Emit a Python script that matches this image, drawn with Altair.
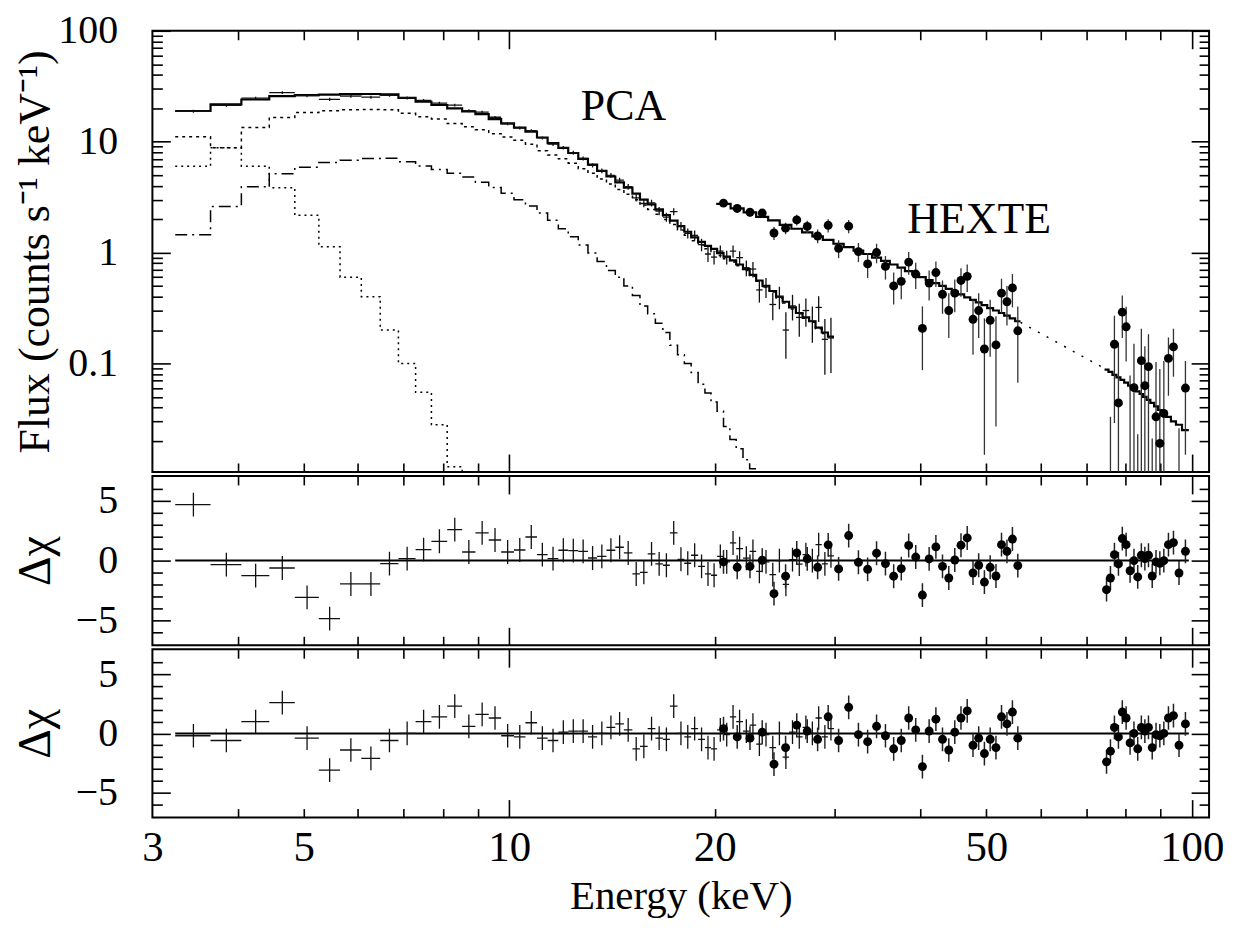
import altair as alt
import pandas as pd

FONT = "Liberation Serif"

# ---------------- PCA (channel edges in keV) ----------------
pca_edges = [3.24, 3.65, 4.05, 4.45, 4.85, 5.26, 5.65, 6.07, 6.47, 6.88, 7.29, 7.69,
             8.11, 8.53, 8.92, 9.33, 9.73, 10.16, 10.56, 10.98, 11.38, 11.80, 12.20,
             12.62, 13.04, 13.45, 13.88, 14.30, 14.72, 15.15, 15.54, 15.95, 16.37,
             16.79, 17.19, 17.64, 18.05, 18.47, 18.91, 19.35, 19.75, 20.16, 20.6,
             21.05, 21.5, 22.0, 22.5, 23.0, 23.5, 24.05, 24.6, 25.15, 25.7, 26.3,
             26.9, 27.5, 28.1, 28.7, 29.3, 29.9]
pca_flux = [18.8, 21.3, 24.7, 27.7, 26.0, 24.1, 25.7, 25.2, 26.2, 24.8,
            23.6, 22.3, 21.4, 19.0, 18.5, 16.6, 14.5, 13.3, 12.6, 10.8,
            9.5, 8.83, 7.96, 7.06, 6.12, 5.45, 4.97, 4.49, 3.92, 3.11,
            2.77, 2.8, 2.37, 2.09, 2.34, 1.73, 1.49, 1.43, 1.18, 0.97,
            0.91, 1.03, 0.91, 1.03, 0.90, 0.73, 0.71, 0.46, 0.49, 0.34,
            0.40, 0.20, 0.33, 0.26, 0.30, 0.24, 0.32, 0.165, 0.17]
pca_err = [0.57, 0.65, 0.72, 0.77, 0.79, 0.8, 0.8, 0.81, 0.8, 0.74,
           0.69, 0.64, 0.6, 0.56, 0.53, 0.48, 0.44, 0.4, 0.37, 0.33,
           0.34, 0.31, 0.32, 0.28, 0.28, 0.27, 0.24, 0.24, 0.23, 0.22,
           0.21, 0.2, 0.2, 0.19, 0.175, 0.16, 0.154, 0.15, 0.15, 0.15,
           0.13, 0.13, 0.13, 0.13, 0.125, 0.12, 0.113, 0.106, 0.1, 0.095,
           0.092, 0.09, 0.086, 0.086, 0.086, 0.086, 0.084, 0.086, 0.088]
pca_model = [18.9, 21.7, 24.0, 25.7, 26.3, 26.6, 26.8, 26.9, 26.7, 24.8,
             22.9, 21.4, 20.0, 18.7, 17.7, 16.0, 14.6, 13.4, 12.3, 10.9,
             9.7, 8.8, 7.9, 7.0, 6.2, 5.45, 4.85, 4.3, 3.85, 3.4,
             3.0, 2.72, 2.45, 2.18, 1.94, 1.73, 1.54, 1.37, 1.25, 1.15,
             1.08, 0.99, 0.92, 0.85, 0.78, 0.71, 0.63, 0.56, 0.50, 0.45,
             0.40, 0.36, 0.32, 0.285, 0.26, 0.24, 0.21, 0.19, 0.175]
pca_comp_soft = [6.0, 8.8, 6.0, 3.85, 2.17, 1.13, 0.60, 0.40, 0.20, 0.10,
                 0.055, 0.028, 0.0117, 0.006]
pca_comp_hard = [11.1, 8.8, 13.4, 16.5, 18.3, 19.0, 19.4, 19.5, 19.4, 18.0,
                 16.8, 16.0, 14.6, 13.6, 12.8, 11.8, 11.0, 10.3, 9.5, 8.3,
                 7.6, 7.0, 6.4, 5.7, 5.2, 4.6, 4.15, 3.7, 3.35, 3.0,
                 2.68, 2.45, 2.22, 1.99, 1.79, 1.6, 1.43, 1.28, 1.17, 1.08,
                 1.02, 0.94, 0.88, 0.82, 0.76, 0.69, 0.61, 0.55, 0.49, 0.44,
                 0.39, 0.35, 0.31, 0.28, 0.255, 0.235, 0.205, 0.186, 0.171]
pca_comp_mid = [1.45, 2.6, 3.92, 5.14, 5.89, 6.5, 6.8, 7.05, 7.1, 6.6,
                6.04, 5.6, 5.2, 4.8, 4.3, 3.87, 3.42, 3.0, 2.63, 2.27,
                1.96, 1.64, 1.39, 1.17, 0.99, 0.83, 0.69, 0.60, 0.50, 0.41,
                0.33, 0.28, 0.23, 0.19, 0.146, 0.12, 0.10, 0.083, 0.065, 0.054,
                0.045, 0.037, 0.027, 0.0206, 0.017, 0.0135, 0.0112, 0.009]
pca_resid_1 = [4.7, -0.34, -1.26, -0.62, -3.08, -4.87, -1.96, -1.96, -0.25, 0.17,
               0.92, 1.62, 2.6, 0.72, 2.32, 1.73, 0.72, 0.89, 1.98, 0.5,
               0.17, 0.87, 0.84, 0.78, 0.22, 0.36, 0.87, 1.12, 0.64, -1.12,
               -0.98, 0.56, -0.28, -0.39, 2.32, 0.11, -0.22, 0.45, -0.48, -1.12,
               -1.23, 0.36, -0.1, 1.48, 1.0, 0.2, 0.78, -0.9, -0.11, -1.18,
               0.0, -2.0, 0.08, -0.3, 0.5, 0.0, 1.34, -0.28, 0.4]
pca_resid_2 = [-0.2, -0.6, 1.0, 2.6, -0.4, -3.1, -1.4, -2.1, -0.6, 0.0,
               1.0, 1.4, 2.3, 0.6, 1.6, 1.3, -0.2, -0.3, 0.9, -0.4,
               -0.6, 0.1, 0.2, 0.2, -0.3, 0.0, 0.5, 0.8, 0.3, -1.3,
               -1.1, 0.4, -0.4, -0.5, 2.3, 0.0, -0.3, 0.4, -0.5, -1.2,
               -1.3, 0.3, -0.1, 1.4, 1.0, 0.2, 0.7, -0.9, -0.1, -1.2,
               0.0, -2.0, 0.1, -0.3, 0.5, 0.0, 1.3, -0.3, 0.4]

# ---------------- HEXTE ----------------
hexte_edges_low = [20.1, 21.1, 22.05, 23.0, 23.95, 24.9, 25.9, 26.85, 27.8, 28.8,
                   29.85, 30.9, 31.95, 33.0, 34.0, 35.05, 36.1, 37.05, 38.0, 38.95,
                   39.85, 40.75, 41.7, 42.65, 43.6, 44.5, 45.4, 46.4, 47.35, 48.25,
                   49.2, 50.15, 51.15, 52.15, 53.1, 54.1, 55.1, 56.1]
hexte_edges_high = [74.5, 75.5, 76.5, 77.55, 78.6, 79.6, 80.65, 81.75, 82.8, 83.85,
                    84.85, 85.85, 86.95, 88.05, 89.2, 90.35, 91.65, 93.2, 94.8, 96.75, 99.0]
hexte_flux_low = [2.79, 2.50, 2.31, 2.27, 1.50, 1.66, 1.97, 1.72, 1.41, 1.76,
                  1.09, 1.73, 1.02, 0.79, 1.0, 0.75, 0.50, 0.55, 0.82, 0.64,
                  0.207, 0.53, 0.66, 0.42, 0.30, 0.43, 0.56, 0.61, 0.25, 0.30,
                  0.135, 0.245, 0.147, 0.43, 0.36, 0.48, 0.197]
hexte_flux_high = [-0.18, -0.077, 0.149, 0.044, 0.29, 0.214, -0.022, 0.0605, -0.067, 0.106,
                   0.063, 0.0935, -0.059, 0.033, 0.019, 0.0354, 0.111, 0.141, -0.029, 0.060]
hexte_err_low = [0.2, 0.2, 0.2, 0.2, 0.2, 0.2, 0.22, 0.22, 0.2, 0.24,
                 0.2, 0.24, 0.2, 0.2, 0.2, 0.18, 0.16, 0.17, 0.19, 0.17,
                 0.12, 0.16, 0.17, 0.14, 0.13, 0.14, 0.16, 0.17, 0.13, 0.13,
                 0.12, 0.13, 0.12, 0.15, 0.14, 0.16, 0.13]
hexte_err_high = [0.11, 0.11, 0.12, 0.11, 0.12, 0.11, 0.1, 0.09, 0.09, 0.1,
                  0.08, 0.09, 0.08, 0.07, 0.07, 0.07, 0.06, 0.065, 0.055, 0.045]
hexte_model_low = [2.75, 2.5, 2.3, 2.1, 1.95, 1.78, 1.64, 1.52, 1.40, 1.30,
                   1.20, 1.12, 1.04, 0.97, 0.90, 0.84, 0.78, 0.73, 0.68, 0.64,
                   0.60, 0.565, 0.53, 0.50, 0.47, 0.445, 0.42, 0.395, 0.375, 0.355,
                   0.335, 0.315, 0.30, 0.285, 0.27, 0.255, 0.24]
hexte_model_high = [0.088, 0.084, 0.079, 0.075, 0.071, 0.067, 0.063, 0.06, 0.056, 0.053,
                    0.050, 0.047, 0.044, 0.041, 0.038, 0.036, 0.033, 0.030, 0.028, 0.025]
hexte_gap_E = [56.1, 74.5]
hexte_gap_model = [0.235, 0.09]
hexte_resid_1_low = [-0.11, -0.56, -0.48, 0.03, -2.77, -1.31, 0.64, 0.14, -0.56, 1.32,
                     -0.70, 2.10, -0.14, -0.73, 0.62, -0.25, -1.31, -0.67, 1.27, 0.30,
                     -2.89, 0.14, 1.15, -0.48, -1.46, 0.05, 1.29, 1.90, -1.04, -0.39,
                     -1.80, -0.56, -1.29, 1.34, 0.78, 1.81, -0.42]
hexte_resid_1_high = [-2.44, -1.46, 0.5, -0.28, 1.85, 1.34, -0.85, 0.0, -1.37, 0.45,
                      0.17, 0.45, -1.29, -0.11, -0.22, 0.0, 1.34, 1.51, -1.04, 0.78]
hexte_resid_2_low = [0.4, -0.3, -0.4, 0.1, -2.6, -1.2, 0.7, 0.2, -0.5, 1.4,
                     -0.6, 2.2, -0.1, -0.7, 0.6, -0.2, -1.3, -0.6, 1.3, 0.3,
                     -2.8, 0.2, 1.2, -0.5, -1.4, 0.1, 1.3, 1.9, -1.0, -0.4,
                     -1.7, -0.5, -1.2, 1.4, 0.8, 1.8, -0.4]
hexte_resid_2_high = [-2.4, -1.5, 0.5, -0.3, 1.8, 1.3, -0.8, 0.0, -1.3, 0.5,
                      0.2, 0.5, -1.2, -0.1, -0.2, 0.0, 1.3, 1.5, -1.0, 0.8]

label_text = ["PCA", "HEXTE"]
label_E = [14.7, 48.8]
label_F = [20.4, 1.96]

# ---------------- tables ----------------
pca = pd.DataFrame({"lo": pca_edges[:-1], "hi": pca_edges[1:], "flux": pca_flux,
                    "err": pca_err, "r1": pca_resid_1, "r2": pca_resid_2})
pca["E"] = (pca["lo"] + pca["hi"]) / 2
pca["f_lo"] = (pca["flux"] - pca["err"]).clip(lower=1e-4)
pca["f_hi"] = pca["flux"] + pca["err"]

hx_low = pd.DataFrame({"lo": hexte_edges_low[:-1], "hi": hexte_edges_low[1:],
                       "flux": hexte_flux_low, "err": hexte_err_low,
                       "r1": hexte_resid_1_low, "r2": hexte_resid_2_low})
hx_high = pd.DataFrame({"lo": hexte_edges_high[:-1], "hi": hexte_edges_high[1:],
                        "flux": hexte_flux_high, "err": hexte_err_high,
                        "r1": hexte_resid_1_high, "r2": hexte_resid_2_high})
hx = pd.concat([hx_low, hx_high], ignore_index=True)
hx["E"] = (hx["lo"] + hx["hi"]) / 2
hx["f_lo"] = (hx["flux"] - hx["err"]).clip(lower=1e-4)
hx["f_hi"] = (hx["flux"] + hx["err"]).clip(lower=1e-4)
hx_pos = hx[hx["flux"] > 0]
for d in (pca, hx):
    for k in ("r1", "r2"):
        d[k + "_lo"] = d[k] - 1
        d[k + "_hi"] = d[k] + 1


def steps(lo, hi, vals, group):
    xs, ys, os_ = [], [], []
    for i, (a, b, v) in enumerate(zip(lo, hi, vals)):
        xs += [a, b]
        ys += [v, v]
        os_ += [2 * i, 2 * i + 1]
    return pd.DataFrame({"x": xs, "y": ys, "o": os_, "g": group})


st_total = steps(pca_edges[:-1], pca_edges[1:], pca_model, "t")
st_soft = steps(pca_edges[:-1], pca_edges[1:], pca_comp_soft, "s")
st_hard = steps(pca_edges[:-1], pca_edges[1:], pca_comp_hard, "h")
st_mid = steps(pca_edges[:-1], pca_edges[1:], pca_comp_mid, "m")
st_hx = pd.concat([steps(hexte_edges_low[:-1], hexte_edges_low[1:], hexte_model_low, "a"),
                   steps(hexte_edges_high[:-1], hexte_edges_high[1:], hexte_model_high, "b")])
gap = pd.DataFrame({"x": hexte_gap_E, "y": hexte_gap_model, "o": [0, 1], "g": "gap"})
zero = pd.DataFrame({"x": [pca_edges[0]], "x2": [hexte_edges_high[-1]], "y": [0.0]})
labels = pd.DataFrame({"t": label_text, "E": label_E, "F": label_F})

# ---------------- scales / axes ----------------
W = 1061
H_TOP, H_MID, H_BOT = 443, 170, 169
XS = alt.Scale(type="log", domain=[3, 106], nice=False)
YF = alt.Scale(type="log", domain=[0.0105, 100], nice=False)
YR = alt.Scale(type="linear", domain=[-7.1, 7.1], nice=False, zero=False)

X_MAJ = [10, 100]
X_MIN = [4, 5, 6, 7, 8, 9, 20, 30, 40, 50, 60, 70, 80, 90]
YF_MAJ = [0.1, 1, 10, 100]
YF_MIN = [0.02, 0.03, 0.04, 0.05, 0.06, 0.07, 0.08, 0.09,
          0.2, 0.3, 0.4, 0.5, 0.6, 0.7, 0.8, 0.9,
          2, 3, 4, 5, 6, 7, 8, 9, 20, 30, 40, 50, 60, 70, 80, 90]
YR_MAJ = [-5, 0, 5]
YR_MIN = [-6, -4, -3, -2, -1, 1, 2, 3, 4, 6]


def tick_axis(orient, values, size):
    # axis pulled inside the frame by its own tick length, so ticks point inward
    return alt.Axis(orient=orient, values=values, tickSize=size, offset=-size,
                    ticks=True, labels=False, domain=False, grid=False, title=None,
                    tickColor="black", tickWidth=1.6)


def carriers(yscale, cy, ymaj, ymin, ylab, ytitle, ytitle_size, height, xlabels):
    base = pd.DataFrame({"cx": [10.0], "cy": [cy]})
    out = []
    pairs = [(tick_axis("bottom", X_MAJ, 18), tick_axis("left", ymaj, 18)),
             (tick_axis("bottom", X_MIN, 9), tick_axis("left", ymin, 10)),
             (tick_axis("top", X_MAJ, 18), tick_axis("right", ymaj, 18)),
             (tick_axis("top", X_MIN, 9), tick_axis("right", ymin, 10))]
    for xa, ya in pairs:
        out.append(alt.Chart(base).mark_point(opacity=0).encode(
            x=alt.X("cx:Q", scale=XS, axis=xa), y=alt.Y("cy:Q", scale=yscale, axis=ya)))
    ya = alt.Axis(orient="left", values=ylab, format="~g", ticks=False, domain=False,
                  grid=False, labelPadding=35, labelOverlap=False, labelFlush=False,
                  labelFont=FONT, labelFontSize=40, labelColor="black",
                  title=ytitle, titleFont=FONT, titleFontSize=ytitle_size,
                  titleFontWeight="normal", titleColor="black", titleAngle=270,
                  titleX=-117, titleY=height / 2, titleBaseline="middle", titleAlign="center")
    if xlabels:
        xa = alt.Axis(orient="bottom", values=[3, 5, 10, 20, 50, 100], format="~g",
                      ticks=False, domain=False, grid=False, labelPadding=9,
                      labelOverlap=False, labelFlush=False, labelFont=FONT,
                      labelFontSize=43, labelColor="black", title="Energy (keV)",
                      titleFont=FONT, titleFontSize=41, titleFontWeight="normal",
                      titleColor="black", titleX=W / 2, titleY=79,
                      titleBaseline="middle", titleAlign="center")
        xenc = alt.X("cx:Q", scale=XS, axis=xa)
    else:
        xenc = alt.X("cx:Q", scale=XS, axis=None)
    out.append(alt.Chart(base).mark_point(opacity=0).encode(
        x=xenc, y=alt.Y("cy:Q", scale=yscale, axis=ya)))
    return out


def line(df, yscale, width=2.0, dash=None):
    kw = dict(color="black", strokeWidth=width, clip=True)
    if dash:
        kw["strokeDash"] = dash
    return alt.Chart(df).mark_line(**kw).encode(
        x=alt.X("x:Q", scale=XS, axis=None), y=alt.Y("y:Q", scale=yscale, axis=None),
        order="o:Q", detail="g:N")


def hrule(df, ycol, yscale, width=1.3, color="#111"):
    return alt.Chart(df).mark_rule(color=color, strokeWidth=width, clip=True).encode(
        x=alt.X("lo:Q", scale=XS, axis=None), x2="hi:Q",
        y=alt.Y(ycol + ":Q", scale=yscale, axis=None))


def vrule(df, y1, y2, yscale, width=1.3, color="#111"):
    return alt.Chart(df).mark_rule(color=color, strokeWidth=width, clip=True).encode(
        x=alt.X("E:Q", scale=XS, axis=None),
        y=alt.Y(y1 + ":Q", scale=yscale, axis=None), y2=y2 + ":Q")


def dots(df, ycol, yscale):
    return alt.Chart(df).mark_circle(size=80, color="black", opacity=1, clip=True).encode(
        x=alt.X("E:Q", scale=XS, axis=None), y=alt.Y(ycol + ":Q", scale=yscale, axis=None))


# ---------------- top panel ----------------
top_layers = carriers(YF, 1.0, YF_MAJ, YF_MIN, YF_MAJ, "Flux (counts s\u207b\u00b9 keV\u207b\u00b9)",
                      44, H_TOP, False)
top_layers += [
    line(st_hard, YF, 1.5, [3, 4]),
    line(st_soft, YF, 1.5, [2, 4]),
    line(st_mid, YF, 1.5, [12, 5, 2, 5]),
    line(st_total, YF, 2.2),
    line(st_hx, YF, 2.2),
    line(gap, YF, 1.5, [2, 8]),
    hrule(pca, "flux", YF),
    vrule(pca, "f_lo", "f_hi", YF),
    vrule(hx, "f_lo", "f_hi", YF, 1.3, "#333"),
    dots(hx_pos, "flux", YF),
    alt.Chart(labels).mark_text(font=FONT, fontSize=44, color="black", align="center",
                                baseline="middle").encode(
        x=alt.X("E:Q", scale=XS, axis=None), y=alt.Y("F:Q", scale=YF, axis=None), text="t:N"),
]
top = alt.layer(*top_layers).resolve_axis(x="independent", y="independent").properties(
    width=W, height=H_TOP)


def resid_panel(col, height, xlabels):
    layers = carriers(YR, 0.0, YR_MAJ, YR_MIN, YR_MAJ, "\u0394\u03c7", 46, height, xlabels)
    layers += [
        alt.Chart(zero).mark_rule(color="black", strokeWidth=2).encode(
            x=alt.X("x:Q", scale=XS, axis=None), x2="x2:Q",
            y=alt.Y("y:Q", scale=YR, axis=None)),
        hrule(pca, col, YR),
        vrule(pca, col + "_lo", col + "_hi", YR),
        vrule(hx, col + "_lo", col + "_hi", YR, 1.5, "#222"),
        dots(hx, col, YR),
    ]
    return alt.layer(*layers).resolve_axis(x="independent", y="independent").properties(
        width=W, height=height)


mid = resid_panel("r1", H_MID, False)
bot = resid_panel("r2", H_BOT, True)

chart = alt.vconcat(top, mid, bot, spacing=0).properties(
    padding={"left": 4, "top": 0, "right": 2, "bottom": 2}
).configure_view(stroke="black", strokeWidth=2).configure_axis(grid=False)

chart.save("out.html", embed_options={"renderer": "svg", "actions": False})
